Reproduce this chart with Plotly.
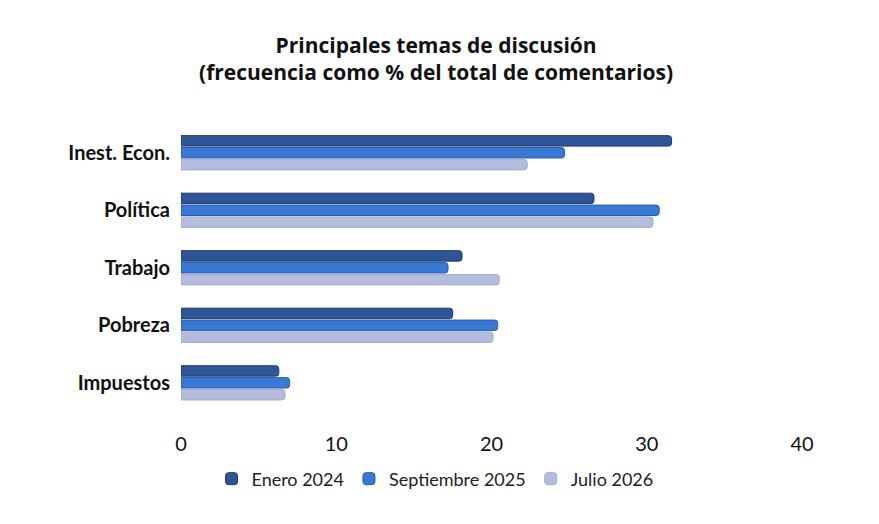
import plotly.graph_objects as go

temas = ["Inest. Econ.", "Política", "Trabajo", "Pobreza", "Impuestos"]
enero_2024 = [31.6, 26.6, 18.1, 17.5, 6.3]
septiembre_2025 = [24.7, 30.8, 17.2, 20.4, 7.0]
julio_2026 = [22.3, 30.4, 20.5, 20.1, 6.7]

series = [
    ("Enero 2024", enero_2024, "#2F5597", "#1F3A6B"),
    ("Septiembre 2025", septiembre_2025, "#3A78D6", "#2A5CAA"),
    ("Julio 2026", julio_2026, "#B4BCDD", "#A4ACCD"),
]

fig = go.Figure()
for name, vals, color, edge in series:
    fig.add_trace(go.Bar(
        y=temas, x=vals, name=name, orientation="h",
        marker=dict(color=color, line=dict(color=edge, width=1)),
    ))

fig.update_layout(
    width=879, height=524,
    paper_bgcolor="white", plot_bgcolor="white",
    font=dict(family="Lato, Noto Sans, sans-serif", color="#111111"),
    title=dict(
        text="<b>Principales temas de discusión<br>(frecuencia como % del total de comentarios)</b>",
        x=0.487, xanchor="center", y=0.915, yanchor="middle",
        font=dict(size=21, color="#111111", family="Open Sans, sans-serif"),
    ),
    barmode="group", bargap=0.38, bargroupgap=0.12, barcornerradius=3,
    margin=dict(l=173, r=85, t=116, b=102),
    legend=dict(
        orientation="h", x=0.409, xanchor="center",
        y=-0.16, yanchor="middle",
        font=dict(size=18, color="#222222"), traceorder="normal",
        itemwidth=30,
    ),
)
fig.update_xaxes(
    range=[0, 40], dtick=10, showgrid=False, zeroline=False, showline=False,
    tickfont=dict(size=20, color="#111111"), ticks="",
)
fig.update_yaxes(
    categoryorder="array", categoryarray=temas, range=[4.82, -0.5],
    showgrid=False, showline=False, ticks="", ticklabelstandoff=10,
    tickfont=dict(size=20, color="#111111", weight="bold"),
)

fig.write_html("out.html")
